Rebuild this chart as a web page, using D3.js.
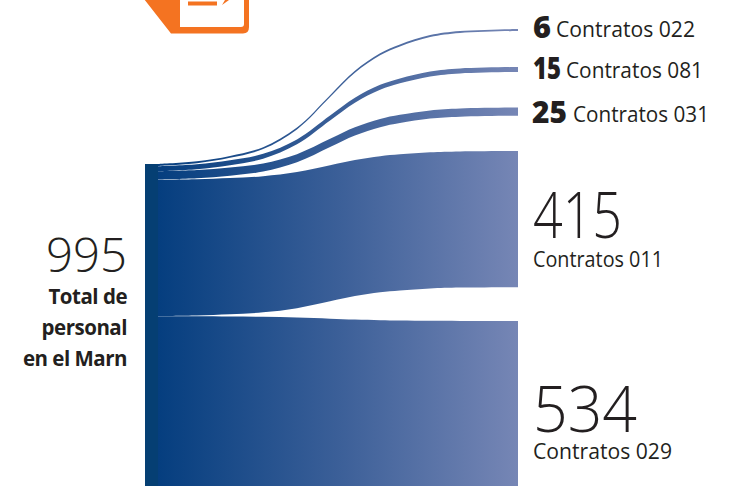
<!DOCTYPE html>
<html>
<head>
<meta charset="utf-8">
<script src="https://cdn.jsdelivr.net/npm/d3@7"></script>
<style>
html, body { margin: 0; padding: 0; background: #fff; overflow: hidden; }
text { font-family: "Open Sans", "Noto Sans", sans-serif; fill: #231f20; }
</style>
</head>
<body>
<div id="chart"></div>
<script>
// datos
var contratos = ["022", "081", "031", "011", "029"];
var personal = [6, 15, 25, 415, 534];
var total = 995;
var totalLabel = ["Total de", "personal", "en el Marn"];

// forma de la curva: avance horizontal y avance vertical
var avance = [0, 0.108, 0.2, 0.292, 0.386, 0.478, 0.547, 0.617, 0.672, 0.756, 0.839, 1];
var subida = [0, 0.02, 0.06, 0.125, 0.27, 0.51, 0.69, 0.82, 0.885, 0.955, 0.985, 1];

var width = 731, height = 486;
var svg = d3.select("#chart").append("svg")
    .attr("width", width)
    .attr("height", height);

var h = d3.scaleLinear().domain([0, total]).range([0, 326.4]);
var x = d3.scaleLinear().domain([0, 1]).range([158, 518]);

// inicio de cada banda a la derecha
var rightTop = [29, 67, 107.5, 151, 321];
var leftStart = 164, leftGap = 0.25;

var grad = svg.append("defs").append("linearGradient")
    .attr("id", "flujo")
    .attr("gradientUnits", "userSpaceOnUse")
    .attr("x1", 158).attr("x2", 518).attr("y1", 0).attr("y2", 0);
grad.append("stop").attr("offset", "0%").attr("stop-color", "#053e7f");
grad.append("stop").attr("offset", "50%").attr("stop-color", "#3b5f98");
grad.append("stop").attr("offset", "100%").attr("stop-color", "#7686b5");

// icono naranja, cortado por el borde superior
var icon = svg.append("g");
icon.append("path")
    .attr("d", "M144,-1 L180,-1 L180,27 L241,27 Q244,27 244,24 L244,-1 L249,-1 L249,27 Q249,33.5 243,33.5 L171,33.5 Z")
    .attr("fill", "#f47321");
icon.append("rect").attr("x", 188).attr("y", 1.5).attr("width", 29).attr("height", 4).attr("fill", "#f47321");
icon.append("path").attr("d", "M222,5 L229,0 L225,0 Z").attr("fill", "#f47321");

// barra izquierda
svg.append("rect")
    .attr("x", 145).attr("y", leftStart)
    .attr("width", 13).attr("height", height - leftStart)
    .attr("fill", "#053f73");

var area = d3.area()
    .x(function (d) { return x(d.t); })
    .y0(function (d) { return d.y; })
    .y1(function (d) { return d.y + d.h; })
    .curve(d3.curveCatmullRom.alpha(0.5));

var acum = leftStart;
personal.forEach(function (v, i) {
  var y0 = acum, y1 = rightTop[i], grueso = h(v);
  acum += grueso + leftGap;
  var pts = avance.map(function (t, j) {
    return { t: t, y: y0 + (y1 - y0) * subida[j], h: grueso };
  });
  svg.append("path")
      .attr("d", area(pts))
      .attr("fill", "url(#flujo)");
});

function label(txt, px, py, size, weight, ancho) {
  return svg.append("text").attr("x", px).attr("y", py)
      .attr("font-size", size).attr("font-weight", weight)
      .attr("textLength", ancho).attr("lengthAdjust", "spacingAndGlyphs")
      .text(txt);
}

// etiquetas pequenas
var small = [
  { i: 0, xn: 533, wn: 18, xt: 556, wt: 139, y: 37 },
  { i: 1, xn: 533, wn: 28, xt: 566, wt: 137, y: 78 },
  { i: 2, xn: 532, wn: 35, xt: 573, wt: 136, y: 122 }
];
small.forEach(function (d) {
  label(personal[d.i], d.xn, d.y + 1, 30, 800, d.wn);
  label("Contratos " + contratos[d.i], d.xt, d.y, 21, 400, d.wt);
});

// etiquetas grandes
var big = [
  { i: 3, y: 238, yt: 267, wn: 89, wt: 130 },
  { i: 4, y: 432, yt: 459, wn: 104, wt: 139 }
];
big.forEach(function (d) {
  label(personal[d.i], 533, d.y, 64, 300, d.wn);
  label("Contratos " + contratos[d.i], 533, d.yt, 21, 400, d.wt);
});

// total
label(total, 46, 272, 47, 300, 81);
svg.selectAll(".total").data(totalLabel).enter().append("text")
    .attr("class", "total")
    .attr("x", 127)
    .attr("y", function (d, i) { return 304 + i * 31; })
    .attr("text-anchor", "end")
    .attr("font-size", 20.5).attr("font-weight", 700).style("letter-spacing", "-0.5px")
    .text(function (d) { return d; });
</script>
</body>
</html>
